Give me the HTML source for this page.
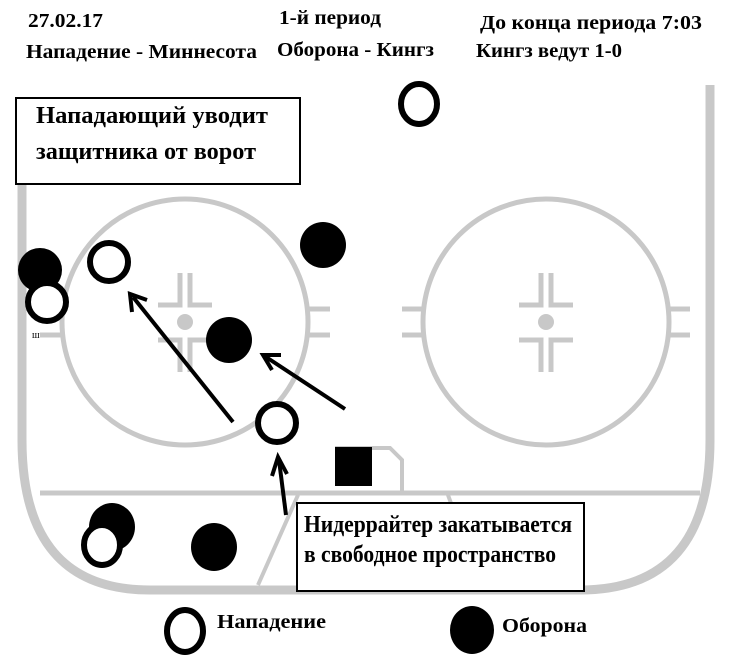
<!DOCTYPE html>
<html><head><meta charset="utf-8"><style>html,body{margin:0;padding:0;background:#fff}svg{display:block}</style></head><body>
<svg width="730" height="671" viewBox="0 0 730 671" xmlns="http://www.w3.org/2000/svg" font-family="Liberation Serif, serif" font-weight="bold">
<g fill="none" stroke="#c8c8c8">
<path d="M22 105 V440 Q22 590 150 590 H580 Q710 590 710 440 V85" stroke-width="9"/>
<line x1="40" y1="493" x2="700" y2="493" stroke-width="5"/>
<circle cx="185" cy="322" r="123" stroke-width="5"/>
<circle cx="546" cy="322" r="123" stroke-width="5"/>
<path d="M335 448 H390 L402 460 V492" stroke-width="4"/>
<path d="M298 495 L258 585 M448 495 L452 506" stroke-width="4"/>
<g stroke-width="5">
<path d="M180 273 V305 H158 M190 273 V305 H212 M180 372 V340 H158 M190 372 V340 H212"/>
<path d="M541 273 V305 H519 M551 273 V305 H573 M541 372 V340 H519 M551 372 V340 H573"/>
<path d="M40 309 H62 M40 335 H62 M307 309 H330 M307 335 H330 M668 309 H690 M668 335 H690 M402 309 H424 M402 335 H424"/>
</g>
</g>
<circle cx="185" cy="322" r="8" fill="#c8c8c8"/>
<circle cx="546" cy="322" r="8" fill="#c8c8c8"/>
<rect x="335" y="447" width="37" height="39" fill="#000"/>
<g fill="#000">
<circle cx="323" cy="245" r="23"/>
<circle cx="40" cy="270" r="22"/>
<circle cx="229" cy="340" r="23"/>
<ellipse cx="112" cy="527" rx="23" ry="24"/>
<ellipse cx="214" cy="547" rx="23" ry="24"/>
<ellipse cx="472" cy="630" rx="22" ry="24"/>
</g>
<g fill="#fff" stroke="#000" stroke-width="6">
<ellipse cx="419" cy="104" rx="18" ry="20"/>
<circle cx="109" cy="262" r="19"/>
<circle cx="47" cy="302" r="19"/>
<circle cx="277" cy="423" r="19"/>
<ellipse cx="102" cy="545" rx="18" ry="20"/>
<ellipse cx="185" cy="631" rx="18" ry="21"/>
</g>
<g stroke="#000" stroke-width="4" fill="none">
<line x1="233" y1="422" x2="133" y2="297"/>
<path d="M132 312 L130 294 L147 300"/>
<line x1="345" y1="409" x2="266" y2="357"/>
<path d="M272 370 L263 355 L281 355"/>
<line x1="286" y1="515" x2="279" y2="460"/>
<path d="M272 476 L278 457 L287 474"/>
</g>
<rect x="16" y="98" width="284" height="86" fill="#fff" stroke="#000" stroke-width="2"/>
<rect x="297" y="503" width="287" height="88" fill="#fff" stroke="#000" stroke-width="2"/>
<g font-size="20" fill="#000" lengthAdjust="spacingAndGlyphs">
<text x="28" y="27" textLength="75" lengthAdjust="spacingAndGlyphs">27.02.17</text>
<text x="279" y="24" textLength="102" lengthAdjust="spacingAndGlyphs">1-й период</text>
<text x="480" y="29" textLength="222" lengthAdjust="spacingAndGlyphs">До конца периода 7:03</text>
<text x="26" y="58" textLength="231" lengthAdjust="spacingAndGlyphs">Нападение - Миннесота</text>
<text x="277" y="56" textLength="157" lengthAdjust="spacingAndGlyphs">Оборона - Кингз</text>
<text x="476" y="57" textLength="146" lengthAdjust="spacingAndGlyphs">Кингз ведут 1-0</text>
</g>
<g font-size="24" fill="#000">
<text x="36" y="123" textLength="232" lengthAdjust="spacingAndGlyphs">Нападающий уводит</text>
<text x="36" y="159" textLength="220" lengthAdjust="spacingAndGlyphs">защитника от ворот</text>
<text x="304" y="532" textLength="268" lengthAdjust="spacingAndGlyphs">Нидеррайтер закатывается</text>
<text x="304" y="562" textLength="252" lengthAdjust="spacingAndGlyphs">в свободное пространство</text>
</g>
<g font-size="20" fill="#000">
<text x="217" y="628" textLength="109" lengthAdjust="spacingAndGlyphs">Нападение</text>
<text x="502" y="632" textLength="85" lengthAdjust="spacingAndGlyphs">Оборона</text>
</g>
<text x="32" y="338" font-size="10" font-weight="normal" fill="#000">ш</text>
</svg>
</body></html>
